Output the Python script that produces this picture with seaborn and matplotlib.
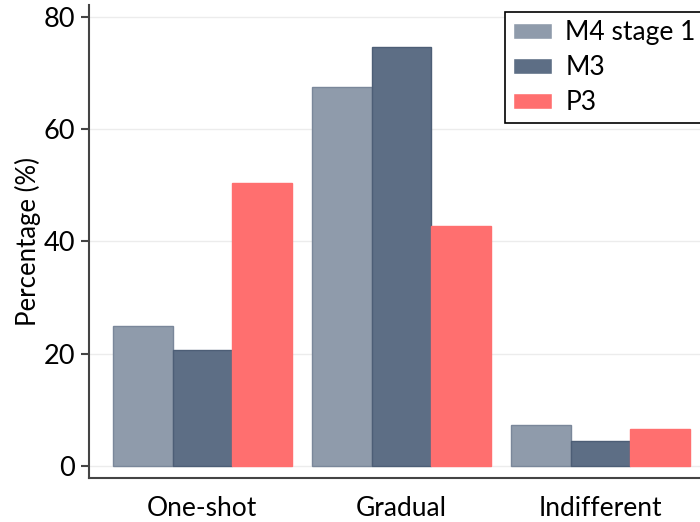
import matplotlib
matplotlib.use("Agg")
import matplotlib.pyplot as plt
import seaborn as sns
import pandas as pd

categories = ["One-shot", "Gradual", "Indifferent"]
series = ["M4 stage 1", "M3", "P3"]
m4_stage1 = [25.0, 67.6, 7.3]
m3 = [20.6, 74.7, 4.5]
p3 = [50.4, 42.8, 6.6]

colors = ["#8f9bab", "#5d6e85", "#ff6f6f"]
edges = ["#7a879a", "#4d5e76", "#ff6f6f"]

rows = []
for s, vals in zip(series, [m4_stage1, m3, p3]):
    for c, v in zip(categories, vals):
        rows.append({"category": c, "series": s, "value": v})
df = pd.DataFrame(rows)

sns.set_theme(style="white")
plt.rcParams["font.family"] = ["Lato", "DejaVu Sans"]
plt.rcParams["text.color"] = "black"
plt.rcParams["axes.labelcolor"] = "black"

fig = plt.figure(figsize=(7.0, 5.22), dpi=100)
ax = fig.add_axes([0.127, 0.0843, 0.873, 0.9057])

sns.barplot(data=df, x="category", y="value", hue="series", order=categories,
            hue_order=series, palette=colors, width=0.9, saturation=1,
            errorbar=None, ax=ax, zorder=3)

n = len(categories)
for i, patch in enumerate(ax.patches[: n * len(series)]):
    patch.set_edgecolor(edges[i // n])
    patch.set_linewidth(1.0)

ax.set_xlim(-0.57, 2.5)
ax.set_ylim(-2.14, 82.1)
ax.set_yticks([0, 20, 40, 60, 80])
ax.yaxis.grid(True, color="#ececec", linewidth=1.0, zorder=0)
ax.set_axisbelow(True)

ax.set_xticks([0, 1, 2])
ax.set_xticklabels(categories)
ax.set_xticks([-0.5, 0.5, 1.5, 2.5], minor=True)
ax.tick_params(axis="x", which="major", length=0, pad=13, labelsize=19, labelcolor="black")
ax.tick_params(axis="x", which="minor", length=6, width=1.5, color="#444444", direction="out")
ax.tick_params(axis="y", which="major", length=6, width=1.5, color="#444444",
               direction="out", left=True, labelsize=19.5, pad=4, labelcolor="black")

for side in ["top", "right"]:
    ax.spines[side].set_visible(False)
for side in ["left", "bottom"]:
    ax.spines[side].set_color("#444444")
    ax.spines[side].set_linewidth(1.5)

ax.set_xlabel("")
ax.set_ylabel("Percentage (%)", fontsize=18.5, labelpad=2, color="black")

leg = ax.legend(loc="upper right", bbox_to_anchor=(1.006, 0.985), fontsize=19,
                frameon=True, fancybox=False, edgecolor="black", framealpha=1,
                handlelength=1.5, handleheight=0.6, borderpad=0.3,
                labelspacing=0.38, handletextpad=0.5, borderaxespad=0.0)
leg.get_frame().set_linewidth(1.2)
for t in leg.get_texts():
    t.set_color("black")

fig.savefig("out.png", dpi=100)
